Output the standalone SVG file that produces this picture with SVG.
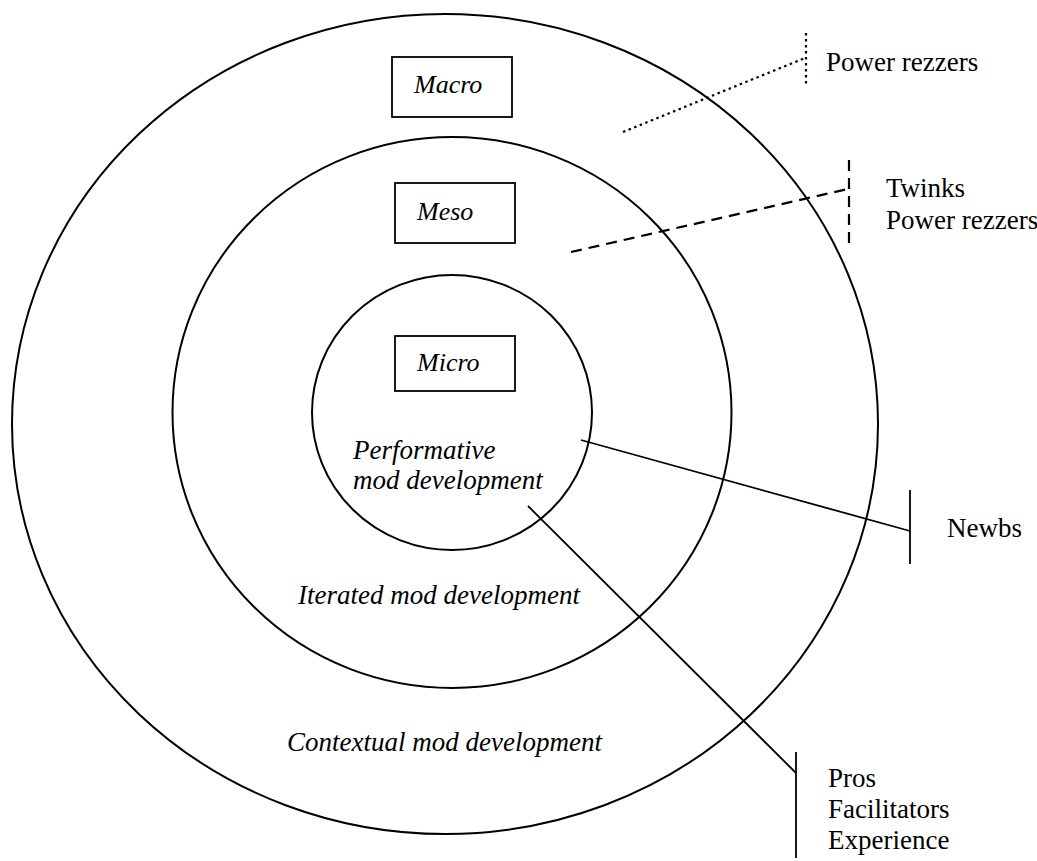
<svg xmlns="http://www.w3.org/2000/svg" width="1037" height="861" viewBox="0 0 1037 861">
<style>
.ring{fill:none;stroke:#000;stroke-width:2}
.box{fill:#fff;stroke:#000;stroke-width:1.8}
.it{font-family:"Liberation Serif","Times New Roman",serif;font-style:italic;font-size:27px;fill:#000}
.bx{font-family:"Liberation Serif","Times New Roman",serif;font-style:italic;font-size:26px;fill:#000}
.lb{font-family:"Liberation Serif","Times New Roman",serif;font-size:27px;fill:#000}
.ln{stroke:#000;stroke-width:1.8;fill:none}
.dot{stroke-dasharray:2.5 3.5;stroke-width:2.2}
.dash{stroke-dasharray:11 7;stroke-width:2.2}
</style>
<rect width="1037" height="861" fill="#fff"/>
<g id="macro-ring">
<ellipse class="ring" cx="445" cy="424" rx="433" ry="410"/>
<text class="it" x="287" y="751">Contextual mod development</text>
</g>
<g id="meso-ring">
<ellipse class="ring" cx="452" cy="412.5" rx="279.5" ry="275.5"/>
<text class="it" x="298" y="604">Iterated mod development</text>
</g>
<g id="micro-ring">
<ellipse class="ring" cx="452" cy="412.5" rx="140" ry="137.5"/>
<text class="it" x="353" y="459">Performative</text>
<text class="it" x="353" y="489">mod development</text>
</g>
<g id="macro-box">
<rect class="box" x="392" y="57" width="120" height="60"/>
<text class="bx" x="414" y="93">Macro</text>
</g>
<g id="meso-box">
<rect class="box" x="395" y="183" width="120" height="60"/>
<text class="bx" x="417" y="220">Meso</text>
</g>
<g id="micro-box">
<rect class="box" x="395" y="336" width="120" height="55"/>
<text class="bx" x="417" y="371">Micro</text>
</g>
<g id="connectors">
<line class="ln dot" x1="623" y1="132" x2="805" y2="58"/>
<line class="ln dot" x1="806" y1="33" x2="806" y2="87"/>
<line class="ln dash" x1="571" y1="252" x2="848" y2="189"/>
<line class="ln dash" x1="849" y1="160" x2="849" y2="247"/>
<line class="ln" x1="581" y1="440" x2="910" y2="531"/>
<line class="ln" x1="910" y1="490" x2="910" y2="564"/>
<line class="ln" x1="528" y1="506" x2="796" y2="773"/>
<line class="ln" x1="796" y1="752" x2="796" y2="858"/>
</g>
<g id="label-power-rezzers">
<text class="lb" x="826" y="71">Power rezzers</text>
</g>
<g id="label-twinks">
<text class="lb" x="886" y="197">Twinks</text>
<text class="lb" x="886" y="229">Power rezzers</text>
</g>
<g id="label-newbs">
<text class="lb" x="947" y="537">Newbs</text>
</g>
<g id="label-pros">
<text class="lb" x="828" y="787">Pros</text>
<text class="lb" x="828" y="818">Facilitators</text>
<text class="lb" x="828" y="849">Experience</text>
</g>
</svg>
